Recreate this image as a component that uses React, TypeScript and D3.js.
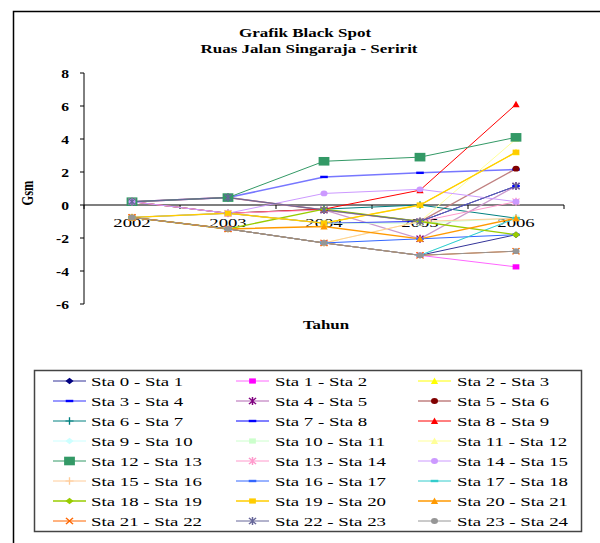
import React from "react";
import * as d3 from "d3";

const years = ["2002", "2003", "2004", "2005", "2006"];
const yTicks = [-6, -4, -2, 0, 2, 4, 6, 8];

const seriesNames = [
  "Sta 0 - Sta 1", "Sta 1 - Sta 2", "Sta 2 - Sta 3", "Sta 3 - Sta 4",
  "Sta 4 - Sta 5", "Sta 5 - Sta 6", "Sta 6 - Sta 7", "Sta 7 - Sta 8",
  "Sta 8 - Sta 9", "Sta 9 - Sta 10", "Sta 10 - Sta 11", "Sta 11 - Sta 12",
  "Sta 12 - Sta 13", "Sta 13 - Sta 14", "Sta 14 - Sta 15", "Sta 15 - Sta 16",
  "Sta 16 - Sta 17", "Sta 17 - Sta 18", "Sta 18 - Sta 19", "Sta 19 - Sta 20",
  "Sta 20 - Sta 21", "Sta 21 - Sta 22", "Sta 22 - Sta 23", "Sta 23 - Sta 24",
];

const sta0 = [-0.75, -1.45, -2.3, -3.05, -1.8];
const sta1 = [-0.75, -1.45, -2.3, -3.05, -3.75];
const sta2 = [0.2, -0.5, -1.1, 0, 3.2];
const sta3 = [0.2, 0.45, 1.7, 1.95, 2.15];
const sta4 = [0.2, 0.45, -0.3, -2.05, 1.15];
const sta5 = [0.2, 0.45, -0.3, -1.0, 2.2];
const sta6 = [0.2, -0.5, -0.25, 0, -0.8];
const sta7 = [-0.75, -0.5, -1.1, -1.0, 1.15];
const sta8 = [0.2, -0.5, -0.25, 0.9, 6.1];
const sta9 = [-0.75, -1.45, -2.3, -3.05, -0.8];
const sta10 = [-0.75, -0.5, -1.1, -1.1, -0.8];
const sta11 = [-0.75, -1.45, -2.3, -1.0, 4.0];
const sta12 = [0.2, 0.45, 2.65, 2.9, 4.1];
const sta13 = [0.2, -0.5, -0.3, -1.0, 0.2];
const sta14 = [0.2, -0.5, 0.7, 0.95, 0.2];
const sta15 = [-0.75, -1.45, -2.3, -1.0, -0.8];
const sta16 = [-0.75, -1.45, -2.3, -2.05, -1.8];
const sta17 = [-0.75, -1.45, -2.3, -3.05, -0.8];
const sta18 = [-0.75, -1.45, -0.25, -1.0, -1.8];
const sta19 = [-0.75, -0.5, -1.1, 0, 3.2];
const sta20 = [-0.75, -1.45, -1.3, -2.05, -0.8];
const sta21 = [-0.75, -1.45, -2.3, -3.05, -2.8];
const sta22 = [0.2, 0.45, -0.3, -1.0, 1.15];
const sta23 = [-0.75, -1.45, -2.3, -3.05, -2.8];

const seriesValues = [
  sta0, sta1, sta2, sta3, sta4, sta5, sta6, sta7, sta8, sta9, sta10, sta11,
  sta12, sta13, sta14, sta15, sta16, sta17, sta18, sta19, sta20, sta21, sta22, sta23,
];

type Shape = "diamond" | "square" | "triangle" | "dash" | "asterisk" | "circle" | "plus" | "x" | "bigsquare";

const styles: { line: string; marker: string; shape: Shape; width: number }[] = [
  { line: "#333399", marker: "#000080", shape: "diamond", width: 1 },
  { line: "#FF66FF", marker: "#FF00FF", shape: "square", width: 1 },
  { line: "#FFFF00", marker: "#FFFF00", shape: "triangle", width: 1 },
  { line: "#7777FF", marker: "#0000FF", shape: "dash", width: 1.6 },
  { line: "#CC99CC", marker: "#800080", shape: "asterisk", width: 1.4 },
  { line: "#C08080", marker: "#800000", shape: "circle", width: 1.4 },
  { line: "#008080", marker: "#008080", shape: "plus", width: 1 },
  { line: "#0000FF", marker: "#0000FF", shape: "dash", width: 1 },
  { line: "#FF0000", marker: "#FF0000", shape: "triangle", width: 1 },
  { line: "#CCFFFF", marker: "#CCFFFF", shape: "diamond", width: 1 },
  { line: "#CCFFCC", marker: "#CCFFCC", shape: "square", width: 1 },
  { line: "#FFFF99", marker: "#FFFF99", shape: "triangle", width: 1 },
  { line: "#339966", marker: "#339966", shape: "bigsquare", width: 1 },
  { line: "#FF99CC", marker: "#FF99CC", shape: "asterisk", width: 1 },
  { line: "#CC99FF", marker: "#CC99FF", shape: "circle", width: 1 },
  { line: "#FFCC99", marker: "#FFCC99", shape: "plus", width: 1 },
  { line: "#3366FF", marker: "#3366FF", shape: "dash", width: 1 },
  { line: "#33CCCC", marker: "#33CCCC", shape: "dash", width: 1 },
  { line: "#99CC00", marker: "#99CC00", shape: "diamond", width: 1.4 },
  { line: "#FFCC00", marker: "#FFCC00", shape: "square", width: 1.4 },
  { line: "#FF9900", marker: "#FF9900", shape: "triangle", width: 1.4 },
  { line: "#FF6600", marker: "#FF6600", shape: "x", width: 1 },
  { line: "#666699", marker: "#666699", shape: "asterisk", width: 1 },
  { line: "#969696", marker: "#969696", shape: "circle", width: 1 },
];

const FONT = "'Liberation Serif', 'Times New Roman', serif";
// glyphs and markers are drawn slightly widened horizontally
const SX = 1.45;

function MarkerShape({ shape, color }: { shape: Shape; color: string }) {
  switch (shape) {
    case "diamond":
      return <path d="M0,-3.3L3,0L0,3.3L-3,0Z" fill={color} />;
    case "square":
      return <rect x={-2.5} y={-2.6} width={5} height={5.2} fill={color} />;
    case "bigsquare":
      return <rect x={-4} y={-4.3} width={8} height={8.6} fill={color} />;
    case "triangle":
      return <path d="M0,-3.5L2.7,3L-2.7,3Z" fill={color} />;
    case "dash":
      return <rect x={-2.8} y={-1.2} width={5.6} height={2.4} fill={color} />;
    case "circle":
      return <ellipse cx={0} cy={0} rx={2.6} ry={2.9} fill={color} />;
    case "plus":
      return <path d="M-3,0H3M0,-3.8V3.8" stroke={color} strokeWidth={1} fill="none" />;
    case "x":
      return <path d="M-2.6,-3.2L2.6,3.2M-2.6,3.2L2.6,-3.2" stroke={color} strokeWidth={1.1} fill="none" />;
    case "asterisk":
      return (
        <path d="M-2.6,-3.2L2.6,3.2M-2.6,3.2L2.6,-3.2M0,-4V4" stroke={color} strokeWidth={1.1} fill="none" />
      );
  }
  return null;
}

function Marker({ x, y, shape, color }: { x: number; y: number; shape: Shape; color: string }) {
  return (
    <g transform={`translate(${x},${y}) scale(1.35,1)`}>
      <MarkerShape shape={shape} color={color} />
    </g>
  );
}

function WideText({
  x,
  y,
  size,
  bold,
  anchor,
  children,
  sx = SX,
}: {
  x: number;
  y: number;
  size: number;
  bold?: boolean;
  anchor?: "start" | "middle" | "end";
  children: React.ReactNode;
  sx?: number;
}) {
  return (
    <text
      transform={`translate(${x},${y}) scale(${sx},1)`}
      fontSize={size}
      fontWeight={bold ? "bold" : "normal"}
      textAnchor={anchor || "start"}
    >
      {children}
    </text>
  );
}

export default function App() {
  const W = 600;
  const H = 543;
  const plotLeft = 84;
  const plotRight = 564;

  const x = d3.scaleBand<string>().domain(years).range([plotLeft, plotRight]);
  const y = d3.scaleLinear().domain([-6, 8]).range([304, 73]);
  const xc = (yr: string) => (x(yr) as number) + x.bandwidth() / 2;

  const line = d3
    .line<number>()
    .x((_, i) => xc(years[i]))
    .y((v) => y(v));

  const bandEdges = years.map((yr) => x(yr) as number).concat([plotRight]);

  // legend layout: sample line start per column, text start per column
  const legLine = [53, 236, 418];
  const legText = [91, 275, 457];
  const legRow0 = 381;
  const legRowH = 20;

  return (
    <svg width={W} height={H} style={{ position: "absolute", left: 0, top: 0 }} fontFamily={FONT}>
      <rect x={0} y={0} width={W} height={H} fill="#fff" />
      {/* outer chart frame */}
      <rect x={13.5} y={11.5} width={700} height={700} fill="none" stroke="#000" strokeWidth={1.5} />

      <WideText x={305} y={37} size={12.5} bold anchor="middle" sx={1.36}>
        Grafik Black Spot
      </WideText>
      <WideText x={309} y={53} size={12.5} bold anchor="middle" sx={1.36}>
        Ruas Jalan Singaraja - Seririt
      </WideText>

      {/* y axis */}
      <line x1={plotLeft} x2={plotLeft} y1={y(8)} y2={y(-6)} stroke="#000" strokeWidth={1} />
      {yTicks.map((t) => (
        <g key={t}>
          <line x1={plotLeft - 4} x2={plotLeft} y1={y(t)} y2={y(t)} stroke="#000" />
          <WideText x={69} y={y(t) + 4.5} size={12} bold anchor="end" sx={1.3}>
            {t}
          </WideText>
        </g>
      ))}
      <text
        transform={`translate(33,193) rotate(-90) scale(1,1.35)`}
        textAnchor="middle"
        fontSize={12.5}
        fontWeight="bold"
      >
        Gsm
      </text>

      {/* x axis at zero */}
      <line x1={plotLeft} x2={plotRight} y1={y(0)} y2={y(0)} stroke="#000" strokeWidth={1.2} />
      {bandEdges.map((e, i) => (
        <line key={i} x1={e} x2={e} y1={y(0)} y2={y(0) + 4} stroke="#000" />
      ))}
      {years.map((yr) => (
        <WideText key={yr} x={xc(yr)} y={227} size={12.5} anchor="middle" sx={1.5}>
          {yr}
        </WideText>
      ))}
      <WideText x={326} y={329} size={12.5} bold anchor="middle" sx={1.35}>
        Tahun
      </WideText>

      {/* series lines */}
      {seriesValues.map((vals, i) => (
        <path key={`l${i}`} d={line(vals) as string} fill="none" stroke={styles[i].line} strokeWidth={styles[i].width} />
      ))}
      {/* series markers */}
      {seriesValues.map((vals, i) =>
        vals.map((v, j) => (
          <Marker key={`m${i}-${j}`} x={xc(years[j])} y={y(v)} shape={styles[i].shape} color={styles[i].marker} />
        ))
      )}

      {/* legend */}
      <rect x={34.5} y={370.5} width={547} height={161} fill="#fff" stroke="#444" strokeWidth={1.5} />
      {seriesNames.map((name, i) => {
        const col = i % 3;
        const row = Math.floor(i / 3);
        const lx = legLine[col];
        const ly = legRow0 + row * legRowH;
        const st = styles[i];
        return (
          <g key={name}>
            <line x1={lx} x2={lx + 33} y1={ly} y2={ly} stroke={st.line} strokeWidth={st.width} />
            <Marker x={lx + 16.5} y={ly} shape={st.shape} color={st.marker} />
            <WideText x={legText[col]} y={ly + 4.5} size={13}>
              {name}
            </WideText>
          </g>
        );
      })}
    </svg>
  );
}
